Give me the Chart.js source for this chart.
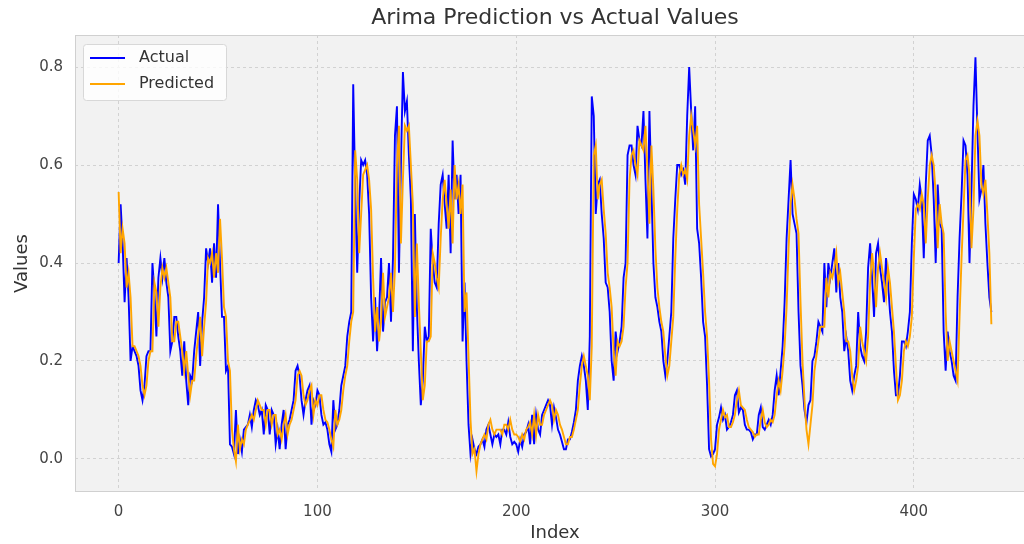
<!DOCTYPE html>
<html>
<head>
<meta charset="utf-8">
<title>Arima Prediction vs Actual Values</title>
<script src="https://cdn.jsdelivr.net/npm/chart.js@4.4.1/dist/chart.umd.min.js"></script>
<style>
    html, body { margin: 0; padding: 0; background: #ffffff; overflow: hidden; }
    #wrap { position: absolute; left: 0; top: 0; width: 1060px; height: 544px; }
</style>
</head>
<body>
<div id="wrap"><canvas id="arimaChart"></canvas></div>
<script>
// values
const actual = [
    0.40, 0.52, 0.44, 0.32, 0.41, 0.33, 0.20, 0.23, 0.22, 0.21,
    0.19, 0.14, 0.12, 0.15, 0.21, 0.22, 0.22, 0.40, 0.34, 0.25,
    0.37, 0.41, 0.37, 0.41, 0.36, 0.33, 0.22, 0.24, 0.29, 0.29,
    0.25, 0.22, 0.17, 0.24, 0.16, 0.11, 0.17, 0.16, 0.22, 0.26,
    0.30, 0.19, 0.28, 0.33, 0.43, 0.40, 0.43, 0.36, 0.44, 0.37,
    0.52, 0.40, 0.29, 0.29, 0.18, 0.19, 0.03, 0.025, 0.01, 0.10,
    0.01, 0.04, 0.015, 0.06, 0.065, 0.07, 0.09, 0.065, 0.10, 0.12,
    0.11, 0.09, 0.10, 0.05, 0.11, 0.10, 0.05, 0.10, 0.09, 0.03,
    0.06, 0.02, 0.07, 0.10, 0.02, 0.07, 0.08, 0.10, 0.12, 0.18,
    0.19, 0.17, 0.12, 0.09, 0.12, 0.14, 0.15, 0.07, 0.12, 0.11,
    0.14, 0.13, 0.09, 0.07, 0.075, 0.06, 0.03, 0.015, 0.12, 0.06,
    0.07, 0.10, 0.15, 0.17, 0.19, 0.25, 0.28, 0.30, 0.765, 0.55,
    0.38, 0.52, 0.61, 0.60, 0.61, 0.58, 0.50, 0.33, 0.24, 0.33,
    0.22, 0.29, 0.41, 0.26, 0.32, 0.33, 0.40, 0.28, 0.41, 0.66,
    0.72, 0.38, 0.60, 0.79, 0.71, 0.73, 0.62, 0.53, 0.22, 0.50,
    0.31, 0.20, 0.11, 0.16, 0.27, 0.24, 0.25, 0.47, 0.40, 0.36,
    0.35, 0.48, 0.56, 0.58, 0.52, 0.47, 0.58, 0.42, 0.65, 0.53,
    0.58, 0.50, 0.58, 0.24, 0.36, 0.20, 0.07, 0.01, 0.04, 0.02,
    0.01, 0.025, 0.03, 0.04, 0.025, 0.06, 0.07, 0.05, 0.03, 0.05,
    0.045, 0.05, 0.03, 0.06, 0.06, 0.05, 0.075, 0.045, 0.03, 0.035,
    0.03, 0.015, 0.04, 0.025, 0.05, 0.055, 0.07, 0.03, 0.09, 0.03,
    0.09, 0.06, 0.05, 0.09, 0.10, 0.11, 0.12, 0.11, 0.07, 0.105,
    0.085, 0.06, 0.05, 0.035, 0.02, 0.02, 0.04, 0.04, 0.055, 0.075,
    0.10, 0.16, 0.19, 0.21, 0.19, 0.16, 0.10, 0.25, 0.74, 0.70,
    0.50, 0.56, 0.57, 0.50, 0.45, 0.36, 0.35, 0.30, 0.20, 0.16,
    0.26, 0.22, 0.24, 0.27, 0.37, 0.40, 0.62, 0.64, 0.64, 0.60,
    0.58, 0.68, 0.65, 0.64, 0.71, 0.57, 0.45, 0.71, 0.55, 0.40,
    0.33, 0.31, 0.28, 0.26, 0.20, 0.17, 0.20, 0.25, 0.30, 0.45,
    0.53, 0.60, 0.60, 0.58, 0.59, 0.56, 0.70, 0.80, 0.71, 0.63,
    0.72, 0.47, 0.44, 0.37, 0.28, 0.25, 0.15, 0.02, 0.005, 0.01,
    0.02, 0.07, 0.085, 0.105, 0.08, 0.09, 0.06, 0.065, 0.075, 0.09,
    0.13, 0.14, 0.095, 0.105, 0.10, 0.07, 0.06, 0.06, 0.055, 0.04,
    0.05, 0.05, 0.09, 0.105, 0.065, 0.06, 0.07, 0.08, 0.07, 0.09,
    0.14, 0.17, 0.13, 0.18, 0.23, 0.32, 0.45, 0.53, 0.61, 0.50,
    0.48, 0.46, 0.30, 0.19, 0.15, 0.10, 0.075, 0.11, 0.12, 0.20,
    0.21, 0.24, 0.28, 0.27, 0.26, 0.40, 0.31, 0.40, 0.37, 0.40,
    0.43, 0.34, 0.40, 0.33, 0.30, 0.22, 0.25, 0.22, 0.16, 0.14,
    0.17, 0.19, 0.30, 0.23, 0.21, 0.20, 0.26, 0.39, 0.44, 0.37,
    0.29, 0.42, 0.44, 0.39, 0.36, 0.32, 0.41, 0.36, 0.30, 0.26,
    0.18, 0.13, 0.13, 0.17, 0.24, 0.24, 0.23, 0.26, 0.30, 0.44,
    0.54, 0.53, 0.51, 0.56, 0.53, 0.41, 0.56, 0.65, 0.66, 0.62,
    0.53, 0.40, 0.56, 0.48, 0.47, 0.26, 0.18, 0.26, 0.22, 0.20,
    0.17, 0.16, 0.33, 0.45, 0.54, 0.65, 0.64, 0.58, 0.40, 0.55,
    0.72, 0.82, 0.67, 0.53, 0.55, 0.60, 0.48, 0.40, 0.33, 0.30
];

const predicted = [
    0.545, 0.42, 0.47, 0.44, 0.35, 0.38, 0.33, 0.23, 0.23, 0.22,
    0.21, 0.19, 0.15, 0.13, 0.15, 0.20, 0.22, 0.22, 0.36, 0.34,
    0.27, 0.35, 0.39, 0.37, 0.39, 0.36, 0.33, 0.24, 0.24, 0.28,
    0.28, 0.25, 0.22, 0.18, 0.22, 0.17, 0.13, 0.16, 0.16, 0.21,
    0.25, 0.29, 0.21, 0.27, 0.32, 0.41, 0.40, 0.42, 0.37, 0.42,
    0.38, 0.49, 0.41, 0.31, 0.29, 0.20, 0.18, 0.06, 0.02, -0.005,
    0.07, 0.02, 0.04, 0.03, 0.06, 0.07, 0.08, 0.09, 0.08, 0.10,
    0.12, 0.11, 0.10, 0.10, 0.07, 0.10, 0.10, 0.07, 0.09, 0.09,
    0.05, 0.06, 0.04, 0.07, 0.09, 0.05, 0.07, 0.08, 0.10, 0.12,
    0.17, 0.18, 0.17, 0.13, 0.11, 0.12, 0.14, 0.15, 0.09, 0.12,
    0.11, 0.13, 0.13, 0.10, 0.08, 0.075, 0.06, 0.04, 0.025, 0.10,
    0.07, 0.08, 0.10, 0.14, 0.17, 0.19, 0.24, 0.28, 0.30, 0.63,
    0.57, 0.42, 0.50, 0.58, 0.59, 0.60, 0.57, 0.51, 0.37, 0.26,
    0.31, 0.24, 0.28, 0.38, 0.29, 0.31, 0.33, 0.38, 0.30, 0.39,
    0.60, 0.68, 0.44, 0.57, 0.68, 0.67, 0.68, 0.60, 0.52, 0.29,
    0.44, 0.32, 0.22, 0.12, 0.15, 0.24, 0.24, 0.25, 0.42, 0.40,
    0.37, 0.35, 0.45, 0.53, 0.57, 0.52, 0.47, 0.55, 0.44, 0.60,
    0.53, 0.56, 0.50, 0.56, 0.30, 0.34, 0.21, 0.08, 0.01, 0.02,
    -0.025, 0.01, 0.03, 0.04, 0.05, 0.04, 0.07, 0.08, 0.06, 0.05,
    0.06, 0.06, 0.06, 0.05, 0.07, 0.07, 0.06, 0.08, 0.06, 0.05,
    0.05, 0.045, 0.035, 0.05, 0.04, 0.06, 0.065, 0.075, 0.05, 0.09,
    0.05, 0.09, 0.07, 0.07, 0.09, 0.10, 0.11, 0.12, 0.11, 0.08,
    0.10, 0.09, 0.07, 0.06, 0.045, 0.03, 0.03, 0.045, 0.045, 0.06,
    0.08, 0.10, 0.15, 0.19, 0.21, 0.19, 0.17, 0.12, 0.23, 0.62,
    0.64, 0.53, 0.56, 0.57, 0.51, 0.46, 0.38, 0.35, 0.31, 0.22,
    0.17, 0.24, 0.23, 0.24, 0.27, 0.35, 0.40, 0.57, 0.62, 0.63,
    0.60, 0.58, 0.65, 0.64, 0.63, 0.68, 0.59, 0.48, 0.64, 0.55,
    0.43, 0.35, 0.31, 0.28, 0.26, 0.21, 0.17, 0.19, 0.24, 0.29,
    0.41, 0.51, 0.58, 0.60, 0.58, 0.59, 0.57, 0.66, 0.70, 0.67,
    0.64, 0.68, 0.52, 0.45, 0.38, 0.30, 0.25, 0.16, 0.04, -0.01,
    -0.015, 0.01, 0.06, 0.08, 0.10, 0.085, 0.09, 0.065, 0.065, 0.075,
    0.09, 0.12, 0.14, 0.11, 0.105, 0.10, 0.08, 0.065, 0.06, 0.055,
    0.045, 0.05, 0.05, 0.08, 0.10, 0.075, 0.065, 0.07, 0.08, 0.075,
    0.09, 0.13, 0.16, 0.14, 0.18, 0.23, 0.31, 0.43, 0.52, 0.56,
    0.53, 0.49, 0.46, 0.32, 0.20, 0.12, 0.06, 0.03, 0.07, 0.11,
    0.18, 0.21, 0.24, 0.27, 0.27, 0.27, 0.37, 0.33, 0.38, 0.37,
    0.39, 0.42, 0.36, 0.38, 0.34, 0.30, 0.24, 0.24, 0.22, 0.17,
    0.14, 0.16, 0.19, 0.27, 0.24, 0.22, 0.20, 0.25, 0.36, 0.42,
    0.38, 0.31, 0.39, 0.42, 0.39, 0.36, 0.33, 0.39, 0.36, 0.31,
    0.26, 0.19, 0.12, 0.13, 0.16, 0.22, 0.24, 0.23, 0.25, 0.29,
    0.41, 0.51, 0.52, 0.51, 0.54, 0.52, 0.44, 0.53, 0.60, 0.62,
    0.60, 0.54, 0.43, 0.52, 0.48, 0.46, 0.30, 0.20, 0.24, 0.22,
    0.20, 0.18, 0.16, 0.29, 0.41, 0.51, 0.61, 0.62, 0.58, 0.43,
    0.51, 0.66, 0.69, 0.66, 0.56, 0.54, 0.57, 0.50, 0.42, 0.275
];

const xTickValues = [0, 100, 200, 300, 400];
const yTickValues = [0.0, 0.2, 0.4, 0.6, 0.8];

const indices = actual.map((v, i) => i);

const FONT = "'DejaVu Sans', 'Liberation Sans', sans-serif";
const TEXT = '#333333';

// plot background, frame, title and the legend box inside the axes
const axesDecor = {
    id: 'axesDecor',
    beforeDraw(chart) {
        const a = chart.chartArea;
        const ctx = chart.ctx;
        ctx.save();
        ctx.fillStyle = '#f2f2f2';
        ctx.fillRect(a.left, a.top, a.right - a.left, a.bottom - a.top);
        ctx.restore();
    },
    afterDatasetsDraw(chart) {
        const a = chart.chartArea;
        const ctx = chart.ctx;
        ctx.save();
        ctx.strokeStyle = '#d0d0d0';
        ctx.lineWidth = 1;
        ctx.strokeRect(a.left + 0.5, a.top + 0.5, a.right - a.left - 1, a.bottom - a.top - 1);

        // title over the axes
        ctx.fillStyle = TEXT;
        ctx.font = '22px ' + FONT;
        ctx.textAlign = 'center';
        ctx.textBaseline = 'middle';
        ctx.fillText('Arima Prediction vs Actual Values', (a.left + a.right) / 2, 18);

        // legend
        const bx = 83.5, by = 44.5, bw = 143, bh = 56;
        ctx.beginPath();
        ctx.roundRect(bx, by, bw, bh, 3);
        ctx.fillStyle = 'rgba(255,255,255,0.8)';
        ctx.fill();
        ctx.strokeStyle = '#d8d8d8';
        ctx.stroke();
        ctx.font = '16px ' + FONT;
        ctx.textAlign = 'left';
        chart.data.datasets.forEach((ds, i) => {
            const y = 58 + i * 26;
            ctx.beginPath();
            ctx.moveTo(90, y);
            ctx.lineTo(125, y);
            ctx.strokeStyle = ds.borderColor;
            ctx.lineWidth = 2;
            ctx.stroke();
            ctx.fillStyle = TEXT;
            ctx.fillText(ds.label, 139, y);
        });
        ctx.restore();
    }
};

const ctx = document.getElementById('arimaChart').getContext('2d');
const arimaChart = new Chart(ctx, {
    type: 'line',
    data: {
        datasets: [{
            label: 'Actual',
            data: actual.map((v, i) => ({ x: indices[i], y: v })),
            borderColor: '#0000ff',
            borderWidth: 1.9,
            pointRadius: 0,
            tension: 0,
            order: 1
        }, {
            label: 'Predicted',
            data: predicted.map((v, i) => ({ x: indices[i], y: v })),
            borderColor: '#ffa500',
            borderWidth: 1.9,
            pointRadius: 0,
            tension: 0,
            order: 0
        }]
    },
    options: {
        responsive: true,
        maintainAspectRatio: false,
        animation: false,
        layout: {
            padding: { top: 35, left: 10, right: 25, bottom: 0 }
        },
        plugins: {
            legend: { display: false },
            tooltip: { enabled: false },
            title: { display: false }
        },
        scales: {
            x: {
                type: 'linear',
                min: -21.95,
                max: 460.95,
                afterBuildTicks: function(scale) {
                    scale.ticks = xTickValues.map(v => ({ value: v }));
                },
                afterFit: function(scale) {
                    scale.height = 52;
                },
                ticks: {
                    color: '#444444',
                    font: { family: FONT, size: 15 },
                    padding: 11,
                    maxRotation: 0,
                    callback: v => String(v)
                },
                grid: {
                    color: '#d2d2d2',
                    drawTicks: false
                },
                border: { display: false, dash: [3, 3] },
                title: {
                    display: true,
                    text: 'Index',
                    color: TEXT,
                    font: { family: FONT, size: 18 },
                    padding: { top: 0, bottom: 0 }
                }
            },
            y: {
                min: -0.0674,
                max: 0.8654,
                afterBuildTicks: function(scale) {
                    scale.ticks = yTickValues.map(v => ({ value: v }));
                },
                afterFit: function(scale) {
                    scale.width = 65;
                },
                ticks: {
                    color: '#444444',
                    font: { family: FONT, size: 15 },
                    padding: 12,
                    callback: v => v.toFixed(1)
                },
                grid: {
                    color: '#d2d2d2',
                    drawTicks: false
                },
                border: { display: false, dash: [3, 3] },
                title: {
                    display: true,
                    text: 'Values',
                    color: TEXT,
                    font: { family: FONT, size: 18 },
                    padding: { top: 2, bottom: 0 }
                }
            }
        }
    },
    plugins: [axesDecor]
});
</script>
</body>
</html>
